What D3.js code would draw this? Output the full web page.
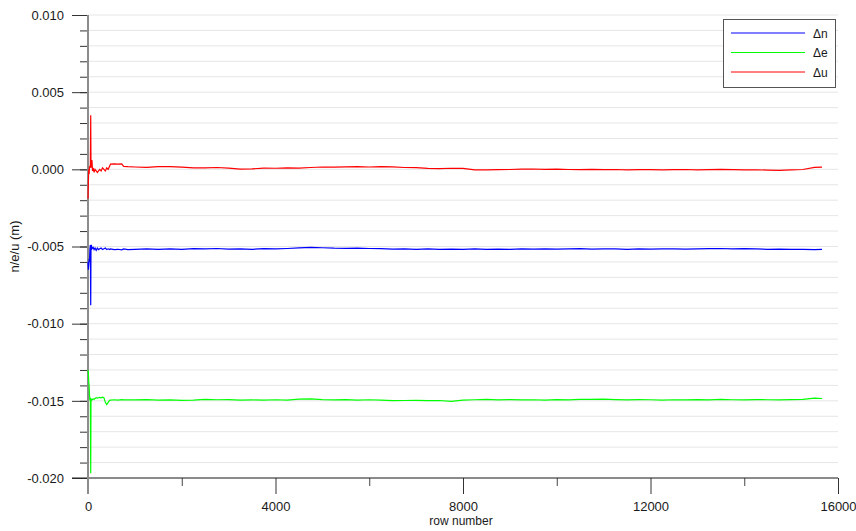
<!DOCTYPE html>
<html>
<head>
<meta charset="utf-8">
<script src="https://cdn.jsdelivr.net/npm/d3@7"></script>
<style>
    body { margin: 0; background: #fff; }
    svg { display: block; font-family: "Liberation Sans", Arial, sans-serif; }
</style>
</head>
<body>
<div id="chart"></div>
<script>
(function() {

    var rows = [0, 8, 16, 24, 32, 40, 50, 58, 64, 72, 84, 96, 110, 130, 150, 175, 200, 225, 250, 280,
        310, 340, 370, 400, 430, 460, 480, 560, 640, 720, 760, 850,
        1000, 1250, 1500, 1750, 2000, 2250, 2500, 2750, 3000, 3250, 3500, 3750, 4000, 4250, 4500, 4750,
        5000, 5250, 5500, 5750, 6000, 6250, 6500, 6750, 7000, 7250, 7500, 7750, 8000, 8250, 8500, 8750,
        9000, 9250, 9500, 9750, 10000, 10250, 10500, 10750, 11000, 11250, 11500, 11750, 12000, 12250,
        12500, 12750, 13000, 13250, 13500, 13750, 14000, 14250, 14500, 14750, 15000, 15250, 15500, 15660];

    var deltaN = [-0.0060, -0.0065, -0.0062, -0.0058, -0.0060, -0.0052, -0.0049, -0.0088, -0.0050, -0.0049,
        -0.00515, -0.0051, -0.00505, -0.0052, -0.0051, -0.00525, -0.0051, -0.0052, -0.00515, -0.0051,
        -0.0052, -0.00515, -0.0051, -0.0052, -0.00515, -0.0052, -0.00515, -0.0052, -0.00518, -0.00522,
        -0.00516, -0.0052,
        -0.00518, -0.00516, -0.00519, -0.00515, -0.00518, -0.00514, -0.00516, -0.00513, -0.00517, -0.00515,
        -0.00518, -0.00514, -0.00516, -0.00513, -0.00509, -0.00506, -0.00508, -0.00511, -0.00512, -0.00510,
        -0.00513, -0.00514, -0.00517, -0.00515, -0.00518, -0.00516, -0.00519, -0.00517, -0.00518, -0.00516,
        -0.00519, -0.00517, -0.00518, -0.00516, -0.00517, -0.00515, -0.00517, -0.00516, -0.00514, -0.00517,
        -0.00515, -0.00516, -0.00518, -0.00515, -0.00517, -0.00516, -0.00515, -0.00517, -0.00516, -0.00514,
        -0.00513, -0.00515, -0.00514, -0.00516, -0.00518, -0.00517, -0.00519, -0.00518, -0.0052, -0.00519];

    var deltaE = [-0.0130, -0.0132, -0.0138, -0.0140, -0.0146, -0.0150, -0.0148, -0.0197, -0.0150, -0.0149,
        -0.01495, -0.0149, -0.01488, -0.0149, -0.01485, -0.0148, -0.01482, -0.0148, -0.01478, -0.0148,
        -0.01476, -0.0148, -0.0151, -0.01525, -0.0151, -0.01497, -0.01495, -0.01493, -0.01495, -0.01492,
        -0.01494, -0.01493,
        -0.01494, -0.01492, -0.01496, -0.01494, -0.01497, -0.01495, -0.01491, -0.01493, -0.01492, -0.01495,
        -0.01494, -0.01496, -0.01493, -0.01495, -0.01489, -0.01487, -0.01492, -0.01494, -0.01492, -0.01495,
        -0.01493, -0.01496, -0.01499, -0.01498, -0.01497, -0.01499, -0.01498, -0.01503, -0.01496, -0.01493,
        -0.01491, -0.01494, -0.01492, -0.01494, -0.01493, -0.01495, -0.01492, -0.01494, -0.01490, -0.01491,
        -0.01489, -0.01492, -0.01494, -0.01492, -0.01493, -0.01495, -0.01493, -0.01494, -0.01492, -0.01494,
        -0.01491, -0.01493, -0.01494, -0.01492, -0.01493, -0.01494, -0.01492, -0.01490, -0.01483, -0.01485];

    var deltaU = [-0.0019, -0.0008, 0.0000, -0.0003, 0.0002, 0.0001, 0.0003, 0.0035, 0.0001, 0.0004,
        0.0006, -0.0001, 0.0001, -0.0002, 0.0000, -0.0001, -0.0002, -0.0001, 0.0000, -0.0001,
        0.0001, 0.0000, -0.0001, 0.0001, 0.0000, 0.0002, 0.00034, 0.00035, 0.00034, 0.00035,
        0.00019, 0.00017,
        0.00015, 0.00013, 0.00017, 0.00018, 0.00014, 0.00010, 0.00009, 0.00012, 0.00008, 0.00001,
        0.00003, 0.00008, 0.00007, 0.00009, 0.00008, 0.00012, 0.00015, 0.00014, 0.00016, 0.00017,
        0.00015, 0.00018, 0.00016, 0.00012, 0.00011, 0.00006, 0.00005, 0.00007, 0.00006, -0.00003,
        -0.00004, -0.00002, -0.00001, 0.00001, 0.00002, 0.00000, 0.00001, -0.00001, -0.00002, 0.00000,
        -0.00002, -0.00001, -0.00003, -0.00002, -0.00002, -0.00003, -0.00002, -0.00001, -0.00003, -0.00002,
        0.00000, -0.00002, -0.00004, -0.00003, -0.00005, -0.00007, -0.00004, -0.00001, 0.00013, 0.00014];

    var seriesNames = ["\u0394n", "\u0394e", "\u0394u"];
    var seriesColors = ["#0000ff", "#00ff00", "#ff0000"];
    var seriesValues = [deltaN, deltaE, deltaU];

    var xMajor = [0, 4000, 8000, 12000, 16000];
    var xMinor = [2000, 6000, 10000, 14000];
    var yMajor = [-0.020, -0.015, -0.010, -0.005, 0.000, 0.005, 0.010];
    var yMinor = d3.range(-20, 11).map(function(d) { return d / 1000; });

    var w = 856, h = 531;
    var left = 88, right = 838, top = 15, bottom = 478;

    var xScale = d3.scaleLinear().domain([0, 16000]).range([left, right]);
    var yScale = d3.scaleLinear().domain([-0.02, 0.01]).range([bottom, top]);

    var svg = d3.select("#chart").append("svg")
        .attr("width", w)
        .attr("height", h);

    // horizontal grid
    svg.append("g").selectAll("line")
        .data(yMinor)
        .enter().append("line")
        .attr("x1", left)
        .attr("x2", right)
        .attr("y1", function(d) { return yScale(d); })
        .attr("y2", function(d) { return yScale(d); })
        .style("stroke", "#e6e6e6")
        .style("stroke-width", 1);

    var fmt = function(d) { return d3.format(".3f")(d).replace("\u2212", "-"); };

    // y axis ticks
    svg.append("g")
        .attr("transform", "translate(" + left + ",0)")
        .call(d3.axisLeft(yScale).tickValues(yMinor).tickSize(8).tickFormat(""))
        .call(function(g) { g.select(".domain").remove(); g.selectAll("line").style("stroke", "#333"); });

    svg.append("g")
        .attr("transform", "translate(" + left + ",0)")
        .call(d3.axisLeft(yScale).tickValues(yMajor).tickSize(16).tickPadding(8).tickFormat(fmt))
        .call(function(g) {
            g.select(".domain").remove();
            g.selectAll("line").style("stroke", "#333");
            g.selectAll("text").style("font-size", "13px").style("fill", "#1a1a1a")
                .style("font-family", "'Liberation Sans', Arial, sans-serif");
        });

    // x axis ticks
    svg.append("g")
        .attr("transform", "translate(0," + bottom + ")")
        .call(d3.axisBottom(xScale).tickValues(xMinor).tickSize(8).tickFormat(""))
        .call(function(g) { g.select(".domain").remove(); g.selectAll("line").style("stroke", "#444"); });

    svg.append("g")
        .attr("transform", "translate(0," + bottom + ")")
        .call(d3.axisBottom(xScale).tickValues(xMajor).tickSize(16).tickPadding(8).tickFormat(d3.format("d")))
        .call(function(g) {
            g.select(".domain").remove();
            g.selectAll("line").style("stroke", "#333");
            g.selectAll("text").style("font-size", "13px").style("fill", "#1a1a1a")
                .style("font-family", "'Liberation Sans', Arial, sans-serif");
        });

    // axis lines
    svg.append("line")
        .attr("x1", left - 16).attr("x2", right)
        .attr("y1", bottom).attr("y2", bottom)
        .style("stroke", "#222").style("stroke-width", 1);

    svg.append("line")
        .attr("x1", left).attr("x2", left)
        .attr("y1", top).attr("y2", bottom + 16)
        .style("stroke", "#8c8c8c").style("stroke-width", 2);

    // series
    var line = d3.line()
        .x(function(d, i) { return xScale(rows[i]); })
        .y(function(d) { return yScale(d); });

    svg.append("g").selectAll("path")
        .data(seriesValues)
        .enter().append("path")
        .attr("d", function(d) { return line(d); })
        .style("fill", "none")
        .style("stroke", function(d, i) { return seriesColors[i]; })
        .style("stroke-width", 1.2);

    // axis titles
    svg.append("text")
        .attr("x", 461).attr("y", 525)
        .attr("text-anchor", "middle")
        .style("font-size", "12px").style("fill", "#1a1a1a")
        .text("row number");

    svg.append("text")
        .attr("transform", "translate(19," + ((top + bottom) / 2) + ") rotate(-90)")
        .attr("text-anchor", "middle")
        .style("font-size", "13px").style("fill", "#1a1a1a")
        .text("n/e/u (m)");

    // legend
    var legend = svg.append("g");

    legend.append("rect")
        .attr("x", 723.5).attr("y", 19.5)
        .attr("width", 112).attr("height", 68)
        .style("fill", "#fff").style("stroke", "#555").style("stroke-width", 1);

    var item = legend.selectAll("g.item")
        .data(seriesNames)
        .enter().append("g")
        .attr("class", "item")
        .attr("transform", function(d, i) { return "translate(0," + (33 + i * 19.5) + ")"; });

    item.append("line")
        .attr("x1", 731).attr("x2", 805)
        .attr("y1", 0).attr("y2", 0)
        .style("stroke", function(d, i) { return seriesColors[i]; })
        .style("stroke-width", 1);

    item.append("text")
        .attr("x", 813).attr("y", 4.5)
        .style("font-size", "12px").style("fill", "#1a1a1a")
        .text(function(d) { return d; });

})();
</script>
</body>
</html>
